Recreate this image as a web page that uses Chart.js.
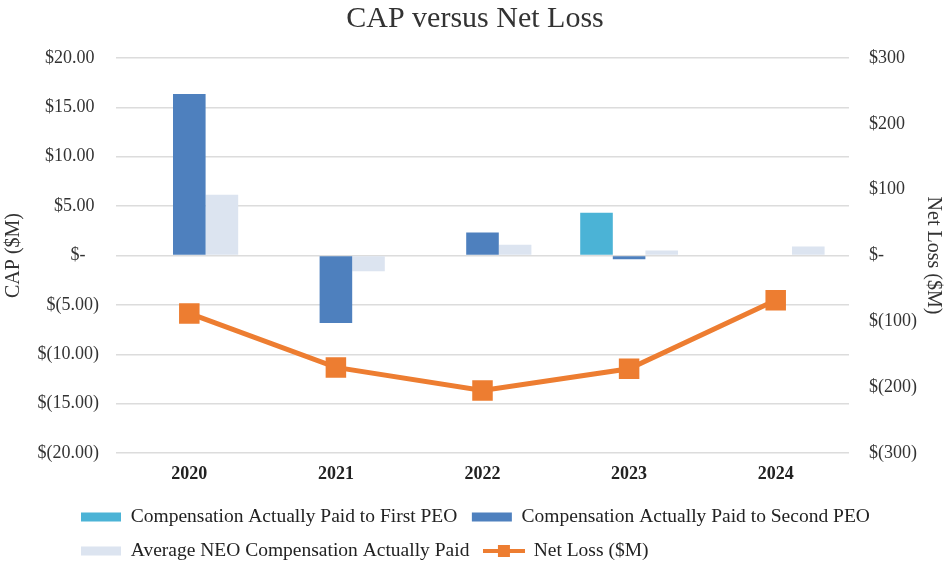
<!DOCTYPE html>
<html>
<head>
<meta charset="utf-8">
<script src="https://cdn.jsdelivr.net/npm/chart.js@4"></script>
<style>
  html, body { margin: 0; padding: 0; background: #ffffff; }
  #wrap { position: relative; width: 950px; height: 562px; }
</style>
</head>
<body>
<div id="wrap"><canvas id="c"></canvas></div>
<script>
// ---- data ----
const categories = ['2020', '2021', '2022', '2023', '2024'];
const firstPEO  = [null, null, null, 4.32, null];
const secondPEO = [16.35, -6.84, 2.33, -0.37, null];
const avgNEO    = [6.15, -1.6, 1.08, 0.5, 0.91];
const netLoss   = [-88, -170, -205, -172, -68];
const capTicks  = [20, 15, 10, 5, 0, -5, -10, -15, -20];
const lossTicks = [300, 200, 100, 0, -100, -200, -300];

const seriesNames = [
  'Compensation Actually Paid to First PEO',
  'Compensation Actually Paid to Second PEO',
  'Average NEO Compensation Actually Paid',
  'Net Loss ($M)'
];

const FONT = "'Liberation Serif', 'Times New Roman', serif";
const TXT = '#333333';
const ORANGE = '#ED7D31';

function capLabel(v) {
  if (v === 0) return '$-   ';
  if (v > 0) return '$' + v.toFixed(2) + ' ';
  return '$(' + Math.abs(v).toFixed(2) + ')';
}
function lossLabel(v) {
  if (v === 0) return '$-';
  if (v > 0) return '$' + v;
  return '$(' + Math.abs(v) + ')';
}

// legend icon for the line series (line with square marker)
const lineIcon = document.createElement('canvas');
lineIcon.width = 42; lineIcon.height = 14;
(function () {
  const g = lineIcon.getContext('2d');
  g.strokeStyle = ORANGE; g.lineWidth = 4;
  g.beginPath(); g.moveTo(0, 7); g.lineTo(42, 7); g.stroke();
  g.fillStyle = ORANGE; g.fillRect(15, 1, 12, 12);
})();

const legendShift = {
  id: 'legendShift',
  afterLayout(chart) {
    if (chart.legend) {
      chart.legend.left += 66.5;
      chart.legend.top += 8.75;
    }
  }
};

new Chart(document.getElementById('c'), {
  data: {
    labels: categories,
    datasets: [
      { type: 'bar', label: seriesNames[0], data: firstPEO, backgroundColor: '#4BB3D6', yAxisID: 'y', pointStyle: 'rect',
        categoryPercentage: 0.667, barPercentage: 1.0 },
      { type: 'bar', label: seriesNames[1], data: secondPEO, backgroundColor: '#4E80BE', yAxisID: 'y', pointStyle: 'rect',
        categoryPercentage: 0.667, barPercentage: 1.0 },
      { type: 'bar', label: seriesNames[2], data: avgNEO, backgroundColor: '#DCE4F0', yAxisID: 'y', pointStyle: 'rect',
        categoryPercentage: 0.667, barPercentage: 1.0 },
      { type: 'line', label: seriesNames[3], data: netLoss, yAxisID: 'y1',
        borderColor: ORANGE, backgroundColor: ORANGE, borderWidth: 5,
        pointStyle: 'rect', pointRadius: 14.5, pointHoverRadius: 14.5,
        pointBackgroundColor: ORANGE, pointBorderColor: ORANGE, pointBorderWidth: 0,
        tension: 0, fill: false }
    ]
  },
  options: {
    responsive: true,
    maintainAspectRatio: false,
    animation: false,
    layout: { padding: { left: 0, right: 0, top: 0, bottom: 0 } },
    plugins: {
      title: {
        display: true,
        text: 'CAP versus Net Loss',
        color: TXT,
        font: { family: FONT, size: 30, weight: 'normal' },
        padding: { top: 1.5, bottom: 20.5 }
      },
      legend: {
        position: 'bottom',
        align: 'start',
        labels: {
          color: '#222222',
          font: { family: FONT, size: 19.5 },
          usePointStyle: true,
          pointStyleWidth: 40,
          boxWidth: 40,
          boxHeight: 9,
          padding: 14.5,
          generateLabels(chart) {
            const items = Chart.defaults.plugins.legend.labels.generateLabels(chart);
            items.forEach(it => {
              if (it.datasetIndex === 3) it.pointStyle = lineIcon;
              else it.pointStyle = 'rect';
            });
            return items;
          }
        }
      },
      tooltip: { enabled: false }
    },
    scales: {
      x: {
        afterFit(scale) { scale.height = 31; },
        grid: { display: false, drawTicks: false },
        border: { display: false },
        ticks: { color: '#222222', font: { family: FONT, size: 18, weight: 'bold' }, padding: 11 }
      },
      y: {
        position: 'left',
        min: -20, max: 20,
        afterBuildTicks(scale) { scale.ticks = capTicks.map(v => ({ value: v })); },
        afterFit(scale) { scale.width = 116; },
        grid: { color: '#DCDCDC', lineWidth: 1.5, drawTicks: false },
        border: { display: false },
        ticks: { color: TXT, font: { family: FONT, size: 18 }, padding: 17, callback: v => capLabel(v) },
        title: { display: true, text: 'CAP ($M)', color: TXT, font: { family: FONT, size: 20 }, padding: { top: 2, bottom: 0 } }
      },
      y1: {
        position: 'right',
        min: -300, max: 300,
        afterBuildTicks(scale) { scale.ticks = lossTicks.map(v => ({ value: v })); },
        afterFit(scale) { scale.width = 101; },
        grid: { drawOnChartArea: false, drawTicks: false },
        border: { display: false },
        ticks: { color: TXT, font: { family: FONT, size: 18 }, padding: 20, callback: v => lossLabel(v) },
        title: { display: true, text: 'Net Loss ($M)', color: TXT, font: { family: FONT, size: 20 }, padding: { top: 5, bottom: 0 } }
      }
    }
  },
  plugins: [legendShift]
});
</script>
</body>
</html>
